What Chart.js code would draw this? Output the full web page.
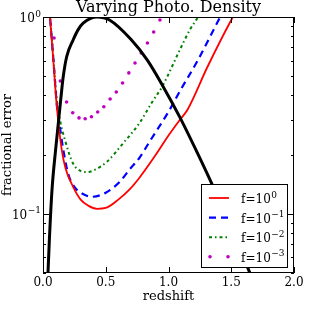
<!DOCTYPE html>
<html>
<head>
<meta charset="utf-8">
<script src="https://cdn.jsdelivr.net/npm/chart.js@4.4.0/dist/chart.umd.min.js"></script>
<style>
  html, body { margin: 0; padding: 0; background: #fff; }
  #wrap { width: 311px; height: 311px; }
</style>
</head>
<body>
<div id="wrap"><canvas id="densityChart"></canvas></div>
<script>
// tick values
const redshiftTicks = [0, 0.5, 1.0, 1.5, 2.0];
const errorMajorTicks = [0.1, 1];
const errorMajorExponents = ['\u22121', '0'];
const errorMinorTicks = [0.05, 0.06, 0.07, 0.08, 0.09, 0.2, 0.3, 0.4, 0.5, 0.6, 0.7, 0.8, 0.9];

// f = 10^0
const redZ = [0.05, 0.08, 0.11, 0.15, 0.18, 0.24, 0.30, 0.36, 0.43, 0.50, 0.60, 0.69, 0.77, 0.90, 1.00, 1.09, 1.15, 1.31, 1.50, 1.60];
const redErr = [1.10, 0.63, 0.35, 0.21, 0.17, 0.137, 0.118, 0.110, 0.106, 0.107, 0.118, 0.133, 0.153, 0.20, 0.25, 0.30, 0.337, 0.557, 0.965, 1.25];

// f = 10^-1
const blueZ = [0.05, 0.08, 0.11, 0.135, 0.15, 0.20, 0.25, 0.30, 0.39, 0.50, 0.61, 0.69, 0.77, 0.85, 1.00, 1.10, 1.235, 1.39, 1.48];
const blueErr = [1.12, 0.64, 0.36, 0.277, 0.235, 0.16, 0.137, 0.128, 0.122, 0.128, 0.145, 0.168, 0.193, 0.233, 0.33, 0.43, 0.605, 0.94, 1.2];

// f = 10^-2
const greenZ = [0.05, 0.08, 0.11, 0.135, 0.175, 0.24, 0.30, 0.35, 0.42, 0.51, 0.64, 0.77, 0.87, 0.95, 1.09, 1.17, 1.235, 1.30];
const greenErr = [1.13, 0.65, 0.38, 0.30, 0.237, 0.18, 0.165, 0.163, 0.168, 0.184, 0.229, 0.29, 0.37, 0.443, 0.68, 0.86, 1.0, 1.2];

// f = 10^-3
const magentaZ = [0.088, 0.138, 0.188, 0.237, 0.287, 0.336, 0.386, 0.436, 0.485, 0.535, 0.584, 0.634, 0.684, 0.733, 0.783, 0.832, 0.882, 0.932];
const magentaErr = [0.782, 0.473, 0.37, 0.326, 0.307, 0.304, 0.311, 0.329, 0.35, 0.383, 0.416, 0.462, 0.52, 0.584, 0.656, 0.738, 0.839, 0.966];

// redshift distribution (black, normalised)
const blackZ = [0.035, 0.05, 0.072, 0.10, 0.141, 0.161, 0.189, 0.24, 0.279, 0.32, 0.43, 0.53, 0.70, 0.83, 0.96, 1.09, 1.23, 1.35, 1.50, 1.66];
const blackVal = [0.042, 0.072, 0.133, 0.21, 0.379, 0.496, 0.63, 0.764, 0.86, 0.93, 1.0, 0.965, 0.77, 0.605, 0.44, 0.31, 0.204, 0.14, 0.085, 0.048];

const fExponents = ['0', '\u22121', '\u22122', '\u22123'];

const serif = 'DejaVu Serif';

const toPoints = (xs, ys) => xs.map((x, i) => ({ x: x, y: ys[i] }));

// draws "10" with a raised exponent, right edge at xRight
const drawPower = (ctx, exp, xRight, yMid) => {
    ctx.font = `12px "${serif}"`;
    const bw = ctx.measureText('10').width;
    ctx.font = `9px "${serif}"`;
    const ew = ctx.measureText(exp).width;
    const x0 = xRight - ew - bw - 0.5;
    ctx.font = `12px "${serif}"`;
    ctx.fillText('10', x0, yMid + 5);
    ctx.font = `9px "${serif}"`;
    ctx.fillText(exp, x0 + bw + 0.5, yMid - 0.5);
};

const frameAndTicks = {
    id: 'frameAndTicks',
    afterDatasetsDraw(chart) {
        const { ctx, chartArea: a, scales: { x, y } } = chart;
        ctx.save();
        ctx.strokeStyle = '#000';
        ctx.lineWidth = 1;
        ctx.beginPath();
        redshiftTicks.forEach(v => {
            const px = Math.round(x.getPixelForValue(v)) + 0.5;
            ctx.moveTo(px, a.bottom); ctx.lineTo(px, a.bottom - 6);
            ctx.moveTo(px, a.top); ctx.lineTo(px, a.top + 6);
        });
        errorMajorTicks.forEach(v => {
            const py = Math.round(y.getPixelForValue(v)) + 0.5;
            ctx.moveTo(a.left, py); ctx.lineTo(a.left + 6, py);
            ctx.moveTo(a.right, py); ctx.lineTo(a.right - 6, py);
        });
        errorMinorTicks.forEach(v => {
            const py = Math.round(y.getPixelForValue(v)) + 0.5;
            ctx.moveTo(a.left, py); ctx.lineTo(a.left + 3, py);
            ctx.moveTo(a.right, py); ctx.lineTo(a.right - 3, py);
        });
        ctx.stroke();
        ctx.strokeRect(Math.round(a.left) + 0.5, Math.round(a.top) + 0.5,
            Math.round(a.right - a.left) - 1, Math.round(a.bottom - a.top) - 1);

        // y tick labels with real superscripts
        ctx.fillStyle = '#000';
        ctx.textAlign = 'left';
        ctx.textBaseline = 'alphabetic';
        errorMajorTicks.forEach((v, i) => {
            drawPower(ctx, errorMajorExponents[i], a.left - 2, y.getPixelForValue(v));
        });
        ctx.restore();
    }
};

const boxLegend = {
    id: 'boxLegend',
    afterDraw(chart) {
        const { ctx, chartArea: a } = chart;
        const w = 86, h = 83;
        const bx = Math.round(a.right - 7 - w), by = Math.round(a.bottom - 6 - h);
        ctx.save();
        ctx.fillStyle = '#fff';
        ctx.fillRect(bx, by, w, h);
        ctx.strokeStyle = '#000';
        ctx.lineWidth = 1;
        ctx.strokeRect(bx + 0.5, by + 0.5, w, h);

        chart.data.datasets.forEach(ds => {
            if (ds.legendIndex === undefined) return;
            const row = ds.legendIndex;
            const cy = by + 14 + row * 19.6;
            const x0 = bx + 8, x1 = bx + 28;
            ctx.strokeStyle = ds.borderColor;
            ctx.fillStyle = ds.borderColor;
            if (ds.showLine === false) {
                [x0 + 1, x1 - 1].forEach(px => {
                    ctx.beginPath();
                    ctx.arc(px, cy, ds.pointRadius, 0, Math.PI * 2);
                    ctx.fill();
                });
            } else {
                ctx.lineWidth = ds.borderWidth;
                ctx.setLineDash(ds.borderDash || []);
                ctx.beginPath();
                ctx.moveTo(x0, cy);
                ctx.lineTo(x1, cy);
                ctx.stroke();
                ctx.setLineDash([]);
            }
            ctx.fillStyle = '#000';
            ctx.textBaseline = 'alphabetic';
            ctx.font = `12px "${serif}"`;
            const base = 'f=10';
            const tx = bx + 40;
            ctx.fillText(base, tx, cy + 5);
            const bw = ctx.measureText(base).width;
            ctx.font = `9px "${serif}"`;
            ctx.fillText(fExponents[row], tx + bw + 0.5, cy - 0.5);
        });
        ctx.restore();
    }
};

const ctx = document.getElementById('densityChart').getContext('2d');

new Chart(ctx, {
    type: 'line',
    data: {
        datasets: [
            {
                label: 'n(z)',
                data: toPoints(blackZ, blackVal),
                borderColor: '#000000',
                borderWidth: 3,
                pointRadius: 0,
                cubicInterpolationMode: 'monotone',
                fill: false
            },
            {
                label: 'f=10^0',
                legendIndex: 0,
                data: toPoints(redZ, redErr),
                borderColor: '#ff0000',
                borderWidth: 1.8,
                pointRadius: 0,
                cubicInterpolationMode: 'monotone',
                fill: false
            },
            {
                label: 'f=10^-1',
                legendIndex: 1,
                data: toPoints(blueZ, blueErr),
                borderColor: '#0000ff',
                borderWidth: 2.2,
                borderDash: [7, 5],
                pointRadius: 0,
                cubicInterpolationMode: 'monotone',
                fill: false
            },
            {
                label: 'f=10^-2',
                legendIndex: 2,
                data: toPoints(greenZ, greenErr),
                borderColor: '#008000',
                borderWidth: 2,
                borderDash: [3, 3, 1.5, 3],
                pointRadius: 0,
                cubicInterpolationMode: 'monotone',
                fill: false
            },
            {
                label: 'f=10^-3',
                legendIndex: 3,
                data: toPoints(magentaZ, magentaErr),
                borderColor: '#bf00bf',
                backgroundColor: '#bf00bf',
                showLine: false,
                pointRadius: 1.8,
                pointBorderWidth: 0,
                pointBackgroundColor: '#bf00bf',
                fill: false
            }
        ]
    },
    options: {
        responsive: true,
        maintainAspectRatio: false,
        animation: false,
        events: [],
        layout: { padding: { left: 0, right: 17, top: 0, bottom: 0 } },
        plugins: {
            legend: { display: false },
            tooltip: { enabled: false },
            title: {
                display: true,
                fullSize: false,
                text: 'Varying Photo. Density',
                color: '#000',
                font: { family: serif, size: 16, weight: 'normal', lineHeight: 1.0 },
                padding: { top: 0, bottom: 1 }
            }
        },
        scales: {
            x: {
                type: 'linear',
                min: 0,
                max: 2,
                afterBuildTicks: s => { s.ticks = redshiftTicks.map(v => ({ value: v })); },
                afterFit: s => { s.height = 38; },
                grid: { display: false, drawTicks: false, tickLength: 0 },
                border: { display: false },
                ticks: {
                    color: '#000',
                    padding: 3,
                    maxRotation: 0,
                    autoSkip: false,
                    font: { family: serif, size: 12 },
                    callback: v => v.toFixed(1)
                },
                title: {
                    display: true,
                    text: 'redshift',
                    color: '#000',
                    font: { family: serif, size: 13 },
                    padding: { top: 0, bottom: 7 }
                }
            },
            y: {
                type: 'logarithmic',
                min: 0.05,
                max: 1,
                afterBuildTicks: s => { s.ticks = errorMajorTicks.map(v => ({ value: v })); },
                afterFit: s => { s.width = 43; },
                grid: { display: false, drawTicks: false, tickLength: 0 },
                border: { display: false },
                ticks: { display: false },
                title: {
                    display: true,
                    text: 'fractional error',
                    color: '#000',
                    font: { family: serif, size: 13 },
                    padding: { top: 0, bottom: 0 }
                }
            }
        }
    },
    plugins: [frameAndTicks, boxLegend]
});
</script>
</body>
</html>
